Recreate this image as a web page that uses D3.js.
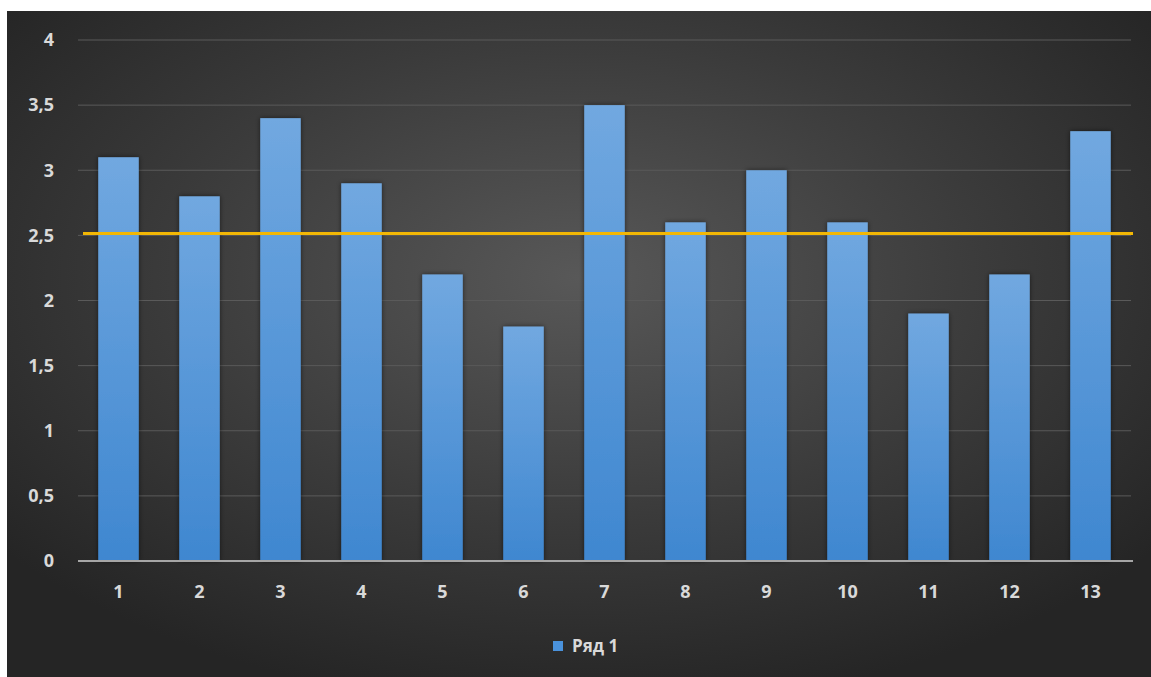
<!DOCTYPE html>
<html>
<head>
<meta charset="utf-8">
<script src="https://cdn.jsdelivr.net/npm/d3@7"></script>
<style>
  html, body { margin: 0; padding: 0; background: #ffffff; }
  svg { display: block; }
</style>
</head>
<body>
<svg id="chart" width="1151" height="677"></svg>
<script>
// Series data
const categories = ["1","2","3","4","5","6","7","8","9","10","11","12","13"];
const values = [3.1, 2.8, 3.4, 2.9, 2.2, 1.8, 3.5, 2.6, 3.0, 2.6, 1.9, 2.2, 3.3];
const yTicks = [0, 0.5, 1, 1.5, 2, 2.5, 3, 3.5, 4];
const referenceLevel = 2.515;
const seriesName = "Ряд 1";

const svg = d3.select("#chart");
const W = 1151, H = 677;
const frame = { x: 7, y: 11, w: W - 7, h: H - 11 };
const plot = { left: 78, right: 1131, top: 40, bottom: 561 };

const defs = svg.append("defs");

// Dark background with a soft lighter centre
const bg = defs.append("radialGradient").attr("id", "bgGrad")
  .attr("cx", "50%").attr("cy", "40%").attr("r", "65%");
bg.append("stop").attr("offset", "0%").attr("stop-color", "#585858");
bg.append("stop").attr("offset", "55%").attr("stop-color", "#3b3b3b");
bg.append("stop").attr("offset", "100%").attr("stop-color", "#252525");

// Bar fill: lighter blue at the top, deeper blue at the base
const barGrad = defs.append("linearGradient").attr("id", "barGrad")
  .attr("x1", 0).attr("y1", 0).attr("x2", 0).attr("y2", 1);
barGrad.append("stop").attr("offset", "0%").attr("stop-color", "#71a8e0");
barGrad.append("stop").attr("offset", "100%").attr("stop-color", "#3f87d0");

const shadow = defs.append("filter").attr("id", "barShadow")
  .attr("x", "-30%").attr("y", "-10%").attr("width", "160%").attr("height", "120%");
shadow.append("feDropShadow").attr("dx", 0).attr("dy", 0)
  .attr("stdDeviation", 2.5).attr("flood-color", "#000").attr("flood-opacity", 0.55);

svg.append("rect")
  .attr("x", frame.x).attr("y", frame.y)
  .attr("width", frame.w).attr("height", frame.h)
  .attr("fill", "url(#bgGrad)");

const x = d3.scaleBand()
  .domain(categories)
  .range([plot.left, plot.right])
  .paddingInner(0.5)
  .paddingOuter(0.25);

const y = d3.scaleLinear()
  .domain([0, 4])
  .range([plot.bottom, plot.top]);

const fmt = v => String(v).replace(".", ",");
const fontFamily = "'Open Sans', 'Noto Sans', sans-serif";

// Horizontal gridlines
svg.append("g")
  .selectAll("line")
  .data(yTicks.filter(t => t > 0))
  .join("line")
  .attr("x1", plot.left).attr("x2", plot.right)
  .attr("y1", d => y(d)).attr("y2", d => y(d))
  .attr("stroke", "#5a5a5a").attr("stroke-width", 1);

// Y axis labels
const yAxis = d3.axisLeft(y).tickValues(yTicks).tickFormat(fmt).tickSize(0).tickPadding(0);
svg.append("g")
  .attr("transform", `translate(${plot.left - 24},0)`)
  .call(yAxis)
  .call(g => g.select(".domain").remove())
  .call(g => g.selectAll("text")
    .attr("fill", "#d9d9d9")
    .attr("font-family", fontFamily)
    .attr("font-weight", "700")
    .attr("font-size", 18));

// Bars
svg.append("g")
  .selectAll("rect")
  .data(values)
  .join("rect")
  .attr("x", (d, i) => x(categories[i]))
  .attr("width", x.bandwidth())
  .attr("y", d => y(d))
  .attr("height", d => y(0) - y(d))
  .attr("fill", "url(#barGrad)")
  .attr("filter", "url(#barShadow)");

// Baseline
svg.append("line")
  .attr("x1", plot.left).attr("x2", plot.right + 2)
  .attr("y1", y(0)).attr("y2", y(0))
  .attr("stroke", "#a6a6a6").attr("stroke-width", 2);

// X axis labels
const xAxis = d3.axisBottom(x).tickSize(0).tickPadding(0);
svg.append("g")
  .attr("transform", `translate(0,${plot.bottom + 24})`)
  .call(xAxis)
  .call(g => g.select(".domain").remove())
  .call(g => g.selectAll("text")
    .attr("dy", "0.71em")
    .attr("fill", "#d9d9d9")
    .attr("font-family", fontFamily)
    .attr("font-weight", "700")
    .attr("font-size", 18));

// Reference level line
svg.append("line")
  .attr("x1", plot.left + 5).attr("x2", plot.right + 2)
  .attr("y1", y(referenceLevel)).attr("y2", y(referenceLevel))
  .attr("stroke", "#f2b705").attr("stroke-width", 3);

// Legend
const legend = svg.append("g").attr("transform", "translate(553,641)");
legend.append("rect")
  .attr("width", 10).attr("height", 10)
  .attr("fill", "#4a92dc");
legend.append("text")
  .attr("x", 19).attr("y", 5)
  .attr("dy", "0.35em")
  .attr("fill", "#d9d9d9")
  .attr("font-family", fontFamily)
  .attr("font-weight", "700")
  .attr("font-size", 17)
  .text(seriesName);
</script>
</body>
</html>
